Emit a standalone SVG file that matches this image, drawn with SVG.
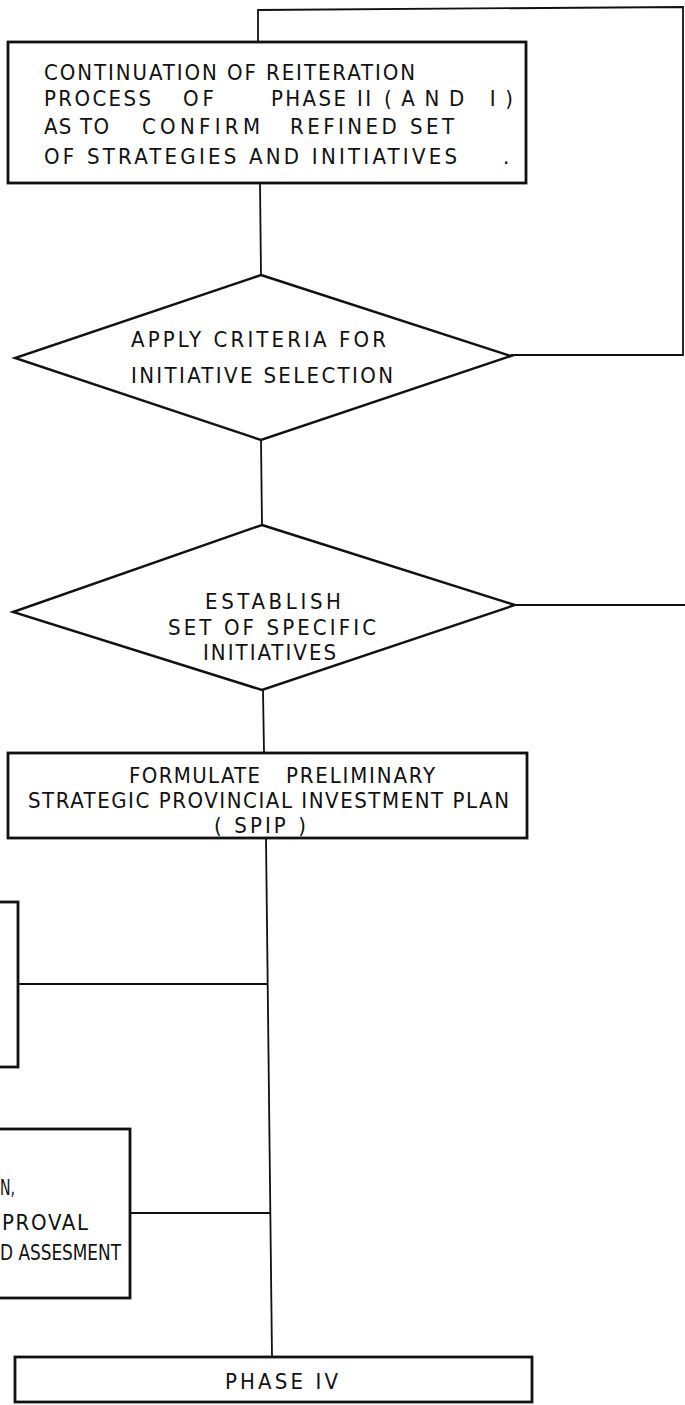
<svg xmlns="http://www.w3.org/2000/svg" width="685" height="1405" viewBox="0 0 685 1405">
  <style>
    .box { fill: #fff; stroke: #111; stroke-width: 2.8; }
    .dia { fill: #fff; stroke: #111; stroke-width: 2.4; stroke-linejoin: miter; }
    .wire { fill: none; stroke: #111; stroke-width: 1.8; }
    .lbl { font-family: "DejaVu Sans Condensed", "Liberation Sans Narrow", "Liberation Sans", sans-serif; font-size: 22px; fill: #111; }
  </style>
  <rect width="685" height="1405" fill="#fff"/>

  <!-- connectors -->
  <g id="connectors">
    <polyline class="wire" points="258,42 258,10 683,7 683,355 511,355"/>
    <line class="wire" x1="260" y1="183" x2="261" y2="275"/>
    <line class="wire" x1="261" y1="440" x2="262" y2="525"/>
    <line class="wire" x1="515" y1="605" x2="685" y2="605"/>
    <line class="wire" x1="263" y1="690" x2="264" y2="753"/>
    <line class="wire" x1="266" y1="838" x2="272" y2="1357"/>
    <line class="wire" x1="18" y1="984" x2="268" y2="984"/>
    <line class="wire" x1="130" y1="1213" x2="270" y2="1213"/>
  </g>

  <!-- reiteration box -->
  <g id="reiteration">
    <rect class="box" x="8" y="42" width="518" height="141"/>
    <text class="lbl" x="44" y="80" textLength="371" lengthAdjust="spacing">CONTINUATION OF REITERATION</text>
    <text class="lbl" y="106"><tspan x="44" textLength="107" lengthAdjust="spacing">PROCESS</tspan><tspan x="183" textLength="31" lengthAdjust="spacing">OF</tspan><tspan x="271" textLength="100" lengthAdjust="spacing">PHASE II</tspan><tspan x="384" textLength="129" lengthAdjust="spacing">(AND I)</tspan></text>
    <text class="lbl" y="134"><tspan x="44" textLength="65" lengthAdjust="spacing">AS TO</tspan><tspan x="142" textLength="118" lengthAdjust="spacing">CONFIRM</tspan><tspan x="290" textLength="164" lengthAdjust="spacing">REFINED SET</tspan></text>
    <text class="lbl" y="164"><tspan x="44" textLength="413" lengthAdjust="spacing">OF STRATEGIES AND INITIATIVES</tspan><tspan x="503">.</tspan></text>
  </g>

  <!-- selection criteria decision -->
  <g id="criteria">
    <polygon class="dia" points="261,275 511,356 261,440 15,358"/>
    <text class="lbl" x="131" y="347" textLength="255" lengthAdjust="spacing">APPLY CRITERIA FOR</text>
    <text class="lbl" x="131" y="383" textLength="262" lengthAdjust="spacing">INITIATIVE SELECTION</text>
  </g>

  <!-- specific initiatives decision -->
  <g id="initiatives">
    <polygon class="dia" points="262,525 515,605 262,690 13,612"/>
    <text class="lbl" x="205" y="609" textLength="136" lengthAdjust="spacing">ESTABLISH</text>
    <text class="lbl" x="168" y="635" textLength="208" lengthAdjust="spacing">SET OF SPECIFIC</text>
    <text class="lbl" x="203" y="660" textLength="133" lengthAdjust="spacing">INITIATIVES</text>
  </g>

  <!-- preliminary SPIP -->
  <g id="spip">
    <rect class="box" x="8" y="753" width="519" height="85"/>
    <text class="lbl" y="783"><tspan x="129" textLength="131" lengthAdjust="spacing">FORMULATE</tspan><tspan x="286" textLength="149" lengthAdjust="spacing">PRELIMINARY</tspan></text>
    <text class="lbl" x="28" y="808" textLength="481" lengthAdjust="spacing">STRATEGIC PROVINCIAL INVESTMENT PLAN</text>
    <text class="lbl" x="214" y="833" textLength="92" lengthAdjust="spacing">( SPIP )</text>
  </g>

  <!-- side box (upper) -->
  <g id="side-upper">
    <rect class="box" x="-20" y="902" width="38" height="165"/>
  </g>

  <!-- side box (lower) -->
  <g id="side-lower">
    <rect class="box" x="-20" y="1129" width="150" height="169"/>
    <text class="lbl" x="0" y="1195" textLength="15" lengthAdjust="spacingAndGlyphs">N,</text>
    <text class="lbl" x="2" y="1230" textLength="86" lengthAdjust="spacing">PROVAL</text>
    <text class="lbl" x="0" y="1260" textLength="121" lengthAdjust="spacingAndGlyphs">D ASSESMENT</text>
  </g>

  <!-- phase IV -->
  <g id="phase-iv">
    <rect class="box" x="15" y="1357" width="517" height="45"/>
    <text class="lbl" x="225" y="1389" textLength="113" lengthAdjust="spacing">PHASE IV</text>
  </g>
</svg>
